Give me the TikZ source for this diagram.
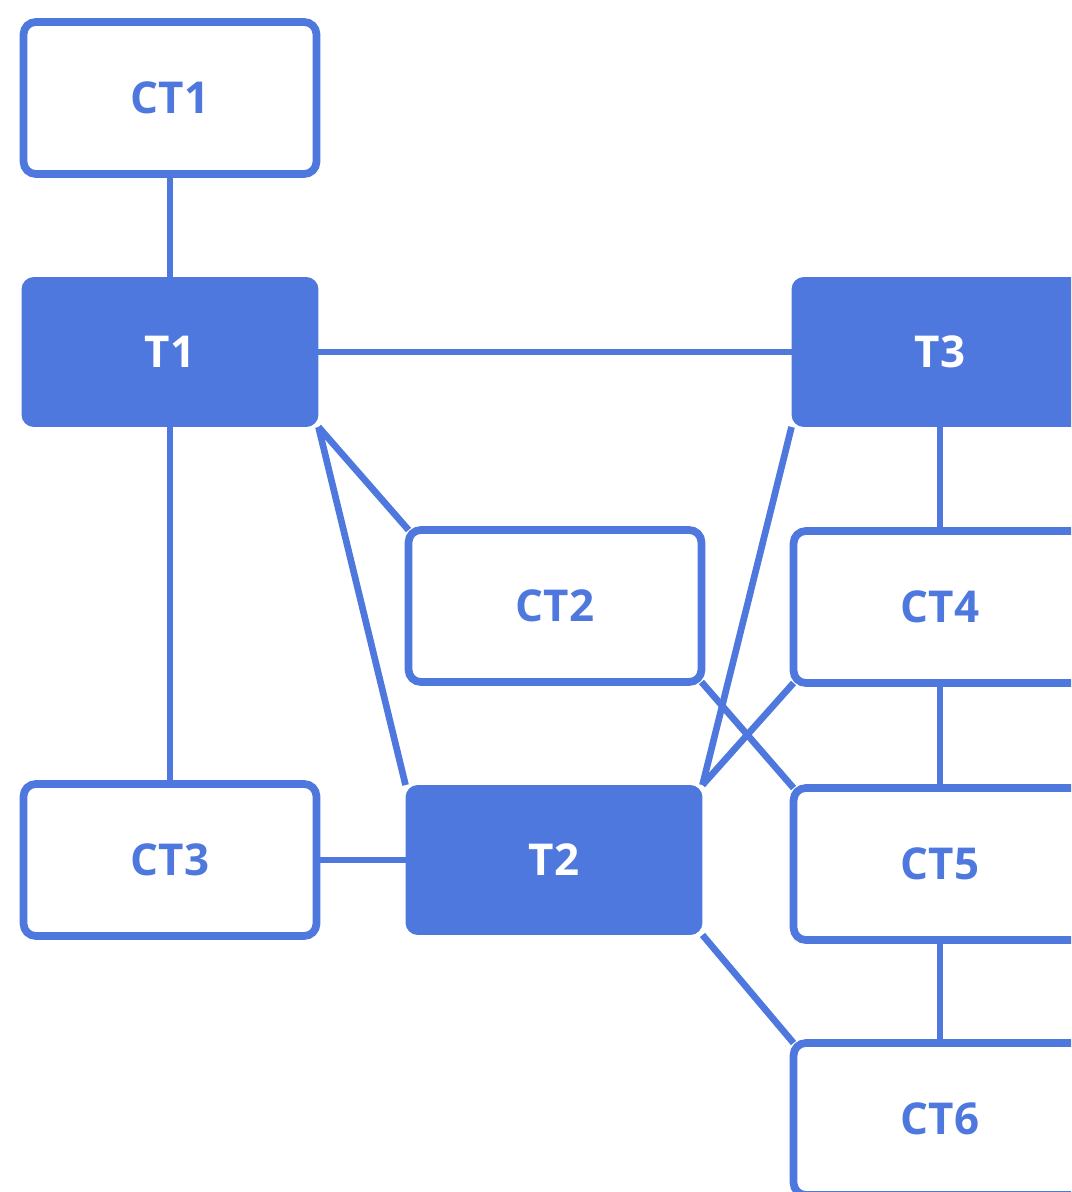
\documentclass[tikz,border=0pt]{standalone}
\usepackage{fontspec}
\setmainfont{Open Sans}
\usetikzlibrary{backgrounds}

\definecolor{tblue}{RGB}{78,120,221}

\begin{document}
\begin{tikzpicture}[x=0.02cm,y=-0.02cm,
    box/.style={draw=tblue,line width=4.4pt,fill=white,rounded corners=7pt,
        minimum width=5.86cm,minimum height=3.04cm,inner sep=0pt,outer sep=0pt,
        text=tblue,font=\fontsize{25}{29}\selectfont\bfseries},
    tbox/.style={box,draw=none,fill=tblue,text=white,
        minimum width=5.94cm,minimum height=3cm},
    link/.style={draw=tblue,line width=3.8pt}]
    \useasboundingbox (0,0) rectangle (1071,1192);
    \clip (0,0) rectangle (1071,1192);
    % left column
    \node[box]  (ct1) at (170,98)  {CT1};
    \node[tbox] (t1)  at (170,352) {T1};
    \node[box]  (ct3) at (170,860) {CT3};
    % middle column
    \node[box]  (ct2) at (555,606) {CT2};
    \node[tbox] (t2)  at (554,860) {T2};
    % right column
    \node[tbox] (t3)  at (940,352)  {T3};
    \node[box]  (ct4) at (940,607)  {CT4};
    \node[box]  (ct5) at (940,864)  {CT5};
    \node[box]  (ct6) at (940,1119) {CT6};
    % links, kept behind the boxes
    \begin{scope}[on background layer]
        \draw[link] (ct1) -- (t1);
        \draw[link] (t1) -- (ct3);
        \draw[link] (t1) -- (t3);
        \draw[link] (ct3) -- (t2);
        \draw[link] (t1.south east) -- (ct2.north west);
        \draw[link] (t1.south east) -- (t2.north west);
        \draw[link] (t3.south west) -- (t2.north east);
        \draw[link] (ct4.south west) -- (t2.north east);
        \draw[link] (ct2.south east) -- (ct5.north west);
        \draw[link] (t2.south east) -- (ct6.north west);
        \draw[link] (t3) -- (ct4);
        \draw[link] (ct4) -- (ct5);
        \draw[link] (ct5) -- (ct6);
    \end{scope}
\end{tikzpicture}
\end{document}
